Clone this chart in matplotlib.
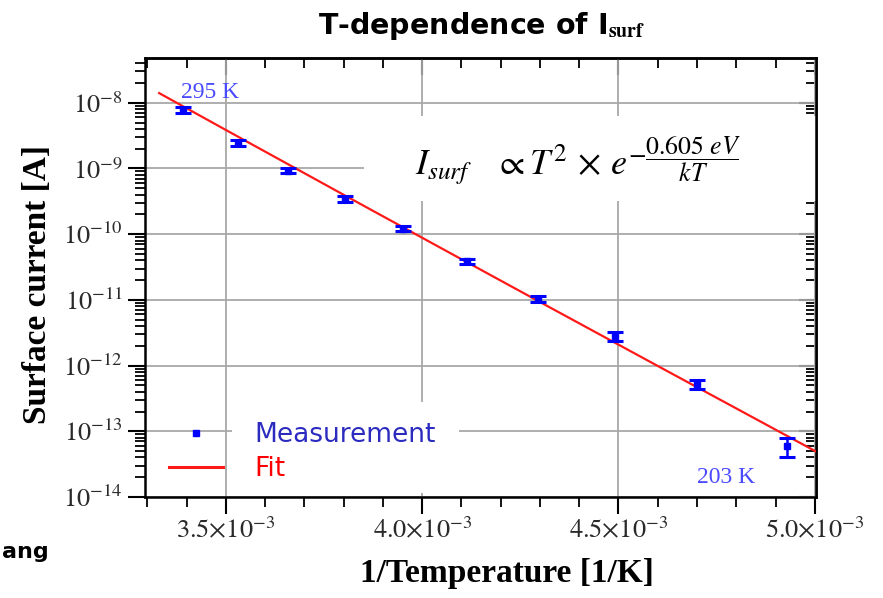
import numpy as np
import matplotlib.pyplot as plt
from matplotlib.lines import Line2D
from matplotlib.patches import Rectangle
from matplotlib.ticker import LogLocator, MultipleLocator, FixedLocator, FuncFormatter, NullFormatter

plt.rcParams['mathtext.fontset'] = 'stix'

# measured surface current vs inverse temperature
inv_T = [3.390e-3, 3.531e-3, 3.658e-3, 3.803e-3, 3.951e-3,
         4.114e-3, 4.295e-3, 4.491e-3, 4.700e-3, 4.929e-3]
I_surf = [7.8e-9, 2.45e-9, 9.2e-10, 3.4e-10, 1.22e-10,
          3.85e-11, 1.03e-11, 2.8e-12, 5.2e-13, 6.0e-14]
I_err = [0.8e-9, 0.25e-9, 0.8e-10, 0.35e-10, 1.2e-11,
         0.35e-11, 1.0e-12, 0.4e-12, 0.8e-13, 2.0e-14]

# fit: I ~ T^2 exp(-Ea/kT), pinned at the 295 K point
E_a = 0.605          # eV
k_B = 8.617e-5       # eV/K
T_ref = 295.0
I_ref = 8.9e-9
fit_range = (3.33e-3, 5.05e-3)

x_ticks = [3.5e-3, 4.0e-3, 4.5e-3, 5.0e-3]
y_ticks = [1e-14, 1e-13, 1e-12, 1e-11, 1e-10, 1e-9, 1e-8]

fig = plt.figure(figsize=(8.83, 5.98), dpi=100)
ax = fig.add_axes([0.1642, 0.1689, 0.7599, 0.7341])
ax.set_yscale('log')
ax.set_xlim(3.294e-3, 5.003e-3)
ax.set_ylim(1e-14, 4.8e-8)

# grid
ax.grid(True, which='major', color='#a8a8a8', linewidth=1.3, zorder=0)
ax.set_axisbelow(True)

# white boxes behind the formula and legend text
ax.add_patch(Rectangle((0.326, 0.674), 0.68, 0.195, transform=ax.transAxes,
                       facecolor='white', edgecolor='none', zorder=1.5))
ax.add_patch(Rectangle((0.130, 0.009), 0.338, 0.207, transform=ax.transAxes,
                       facecolor='white', edgecolor='none', zorder=1.5))

# fit line
x_fit = np.linspace(fit_range[0], fit_range[1], 200)
A = I_ref / (T_ref**2 * np.exp(-E_a / (k_B * T_ref)))
T_fit = 1.0 / x_fit
ax.plot(x_fit, A * T_fit**2 * np.exp(-E_a / (k_B * T_fit)), color='#ff1a1a',
        linewidth=1.6, zorder=3)

# measurements
ax.errorbar(inv_T, I_surf, yerr=I_err, fmt='s', color='#0000ff', markersize=4,
            elinewidth=1.8, capsize=5.5, capthick=2.2, zorder=4)

# ticks
ax.xaxis.set_major_locator(FixedLocator(x_ticks))
ax.xaxis.set_minor_locator(MultipleLocator(1e-4))
ax.xaxis.set_major_formatter(FuncFormatter(lambda v, p: r'$%.1f{\times}10^{-3}$' % (v * 1e3)))
ax.yaxis.set_major_locator(FixedLocator(y_ticks))
ax.yaxis.set_minor_locator(LogLocator(base=10, subs=np.arange(2, 10), numticks=20))
ax.yaxis.set_minor_formatter(NullFormatter())
ax.yaxis.set_major_formatter(FuncFormatter(lambda v, p: r'$10^{%d}$' % round(np.log10(v))))

ax.tick_params(axis='both', which='major', length=12, width=1.5, labelsize=19,
               labelcolor='#2a2a2a', direction='out')
ax.tick_params(axis='both', which='minor', length=7, width=1.3, direction='out')
ax.tick_params(axis='x', which='major', pad=3)
ax.tick_params(axis='y', which='major', pad=4)

# inward ticks on top and right
top = ax.secondary_xaxis('top')
top.xaxis.set_major_locator(FixedLocator(x_ticks))
top.xaxis.set_minor_locator(MultipleLocator(1e-4))
top.tick_params(which='major', direction='in', length=12, width=1.5, labeltop=False)
top.tick_params(which='minor', direction='in', length=7, width=1.3)
top.spines['top'].set_linewidth(1.8)
right = ax.secondary_yaxis('right')
right.yaxis.set_major_locator(FixedLocator(y_ticks))
right.yaxis.set_minor_locator(LogLocator(base=10, subs=np.arange(2, 10), numticks=20))
right.yaxis.set_minor_formatter(NullFormatter())
right.tick_params(which='major', direction='in', length=12, width=1.5, labelright=False)
right.tick_params(which='minor', direction='in', length=7, width=1.3)
right.spines['right'].set_linewidth(1.8)
for s in ax.spines.values():
    s.set_linewidth(1.8)

ax.set_xlabel('1/Temperature [1/K]', family='Liberation Serif', fontweight='bold',
              fontsize=24, labelpad=10)
ax.xaxis.label.set_x(0.539)
ax.set_ylabel('Surface current [A]', family='Liberation Serif', fontweight='bold',
              fontsize=24, labelpad=7)
ax.yaxis.label.set_y(0.483)

# temperature annotations
ax.text(inv_T[0] - 0.004e-3, 1.45e-8, '295 K', family='Liberation Serif',
        fontsize=17, color='#4a4aff', va='center', zorder=5)
ax.text(4.70e-3, 2.0e-14, '203 K', family='Liberation Serif',
        fontsize=17, color='#4a4aff', va='center', zorder=5)

# formula: base part, then the exponent fraction next to it
base = ax.text(0.403, 0.733, r'$I_{surf}\quad\propto T^2\,\times\,e$',
               transform=ax.transAxes, fontsize=26, va='baseline', ha='left', zorder=5)
ax.annotate(r'$-\dfrac{0.605\ eV}{kT}$', xy=(1.0, 0.62), xycoords=base,
            xytext=(0.5, 0), textcoords='offset points', fontsize=18.5,
            va='center', ha='left', zorder=5)

# legend
handles = [Line2D([], [], linestyle='none', marker='s', color='#0000ff', markersize=5),
           Line2D([], [], color='#ff1a1a', linewidth=2.2)]
leg = ax.legend(handles, ['Measurement', 'Fit'], loc='lower left',
                bbox_to_anchor=(0.0, -0.021), frameon=False, fontsize=19,
                handlelength=2.05, handletextpad=1.2, labelspacing=0.32,
                borderpad=0.4)
leg.get_texts()[0].set_color('#2b2bc0')
leg.get_texts()[1].set_color('#ff0000')
leg.set_zorder(6)

fig.text(0.545, 0.957, r'T-dependence of I$_{\mathbf{surf}}$', ha='center', va='center',
         fontsize=20.5, fontweight='bold')
fig.text(0.002, 0.077, 'ang', ha='left', va='center', fontsize=16, fontweight='bold')

fig.savefig('out.png', dpi=100)
